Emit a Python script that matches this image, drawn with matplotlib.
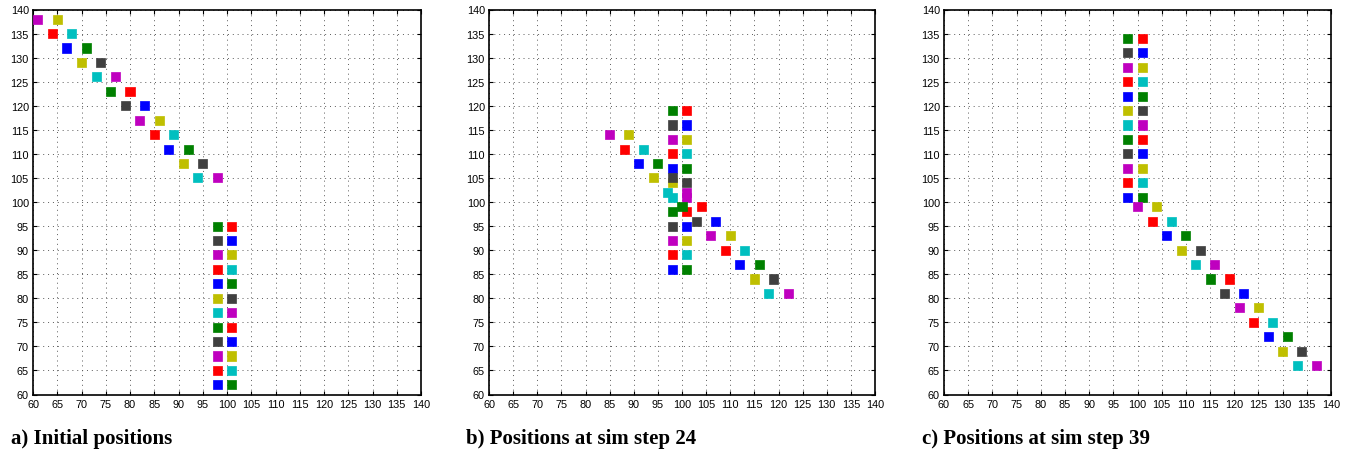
import matplotlib
matplotlib.use("Agg")
import matplotlib.pyplot as plt

# agent positions (48 agents, same order in every panel)
a_x = [98, 101, 98, 101, 98, 101, 98, 101, 98, 101, 98, 101,
       98, 101, 98, 101, 98, 101, 98, 101, 98, 101, 98, 101,
       94, 98, 91, 95, 88, 92, 85, 89, 82, 86, 79, 83,
       76, 80, 73, 77, 70, 74, 67, 71, 64, 68, 61, 65]
a_y = [62, 62, 65, 65, 68, 68, 71, 71, 74, 74, 77, 77,
       80, 80, 83, 83, 86, 86, 89, 89, 92, 92, 95, 95,
       105, 105, 108, 108, 111, 111, 114, 114, 117, 117, 120, 120,
       123, 123, 126, 126, 129, 129, 132, 132, 135, 135, 138, 138]

b_x = [98, 101, 98, 101, 98, 101, 98, 101, 98, 101, 98, 101,
       98, 101, 98, 101, 98, 101, 98, 101, 98, 101, 98, 101,
       118, 122, 115, 119, 112, 116, 109, 113, 106, 110, 103, 107,
       100, 104, 97, 101, 94, 98, 91, 95, 88, 92, 85, 89]
b_y = [86, 86, 89, 89, 92, 92, 95, 95, 98, 98, 101, 101,
       104, 104, 107, 107, 110, 110, 113, 113, 116, 116, 119, 119,
       81, 81, 84, 84, 87, 87, 90, 90, 93, 93, 96, 96,
       99, 99, 102, 102, 105, 105, 108, 108, 111, 111, 114, 114]

c_x = [98, 101, 98, 101, 98, 101, 98, 101, 98, 101, 98, 101,
       98, 101, 98, 101, 98, 101, 98, 101, 98, 101, 98, 101,
       133, 137, 130, 134, 127, 131, 124, 128, 121, 125, 118, 122,
       115, 119, 112, 116, 109, 113, 106, 110, 103, 107, 100, 104]
c_y = [101, 101, 104, 104, 107, 107, 110, 110, 113, 113, 116, 116,
       119, 119, 122, 122, 125, 125, 128, 128, 131, 131, 134, 134,
       66, 66, 69, 69, 72, 72, 75, 75, 78, 78, 81, 81,
       84, 84, 87, 87, 90, 90, 93, 93, 96, 96, 99, 99]

captions = ["a) Initial positions",
            "b) Positions at sim step 24",
            "c) Positions at sim step 39"]

# old matlab colour order
cycle = [(0, 0, 1), (0, 0.5, 0), (1, 0, 0), (0, 0.75, 0.75),
         (0.75, 0, 0.75), (0.75, 0.75, 0), (0.25, 0.25, 0.25)]

ticks = list(range(60, 141, 5))

W, H = 1352, 452
fig = plt.figure(figsize=(W / 100, H / 100), dpi=100)

# axes boxes in pixels: left, right
boxes = [(33, 421), (489, 875), (944, 1331)]
top, bottom = 10.5, 395.5
cap_x = [11, 466, 922]

panels = [(a_x, a_y), (b_x, b_y), (c_x, c_y)]
for k, (xs, ys) in enumerate(panels):
    l, r = boxes[k]
    ax = fig.add_axes([l / W, 1 - bottom / H, (r - l) / W, (bottom - top) / H])
    ax.set_xlim(60, 140)
    ax.set_ylim(60, 140)
    ax.set_xticks(ticks)
    ax.set_yticks(ticks)
    ax.grid(True, color='0.35', linestyle=(0, (1, 4)), linewidth=0.7)
    ax.set_axisbelow(True)
    ax.tick_params(direction='in', top=True, right=True, length=3, width=0.8,
                   labelsize=7.8, pad=3.0, colors='black')
    for lab in ax.get_xticklabels() + ax.get_yticklabels():
        lab.set_family('Liberation Sans')
    for s in ax.spines.values():
        s.set_linewidth(1.2)
    cols = [cycle[i % 7] for i in range(len(xs))]
    ax.scatter(xs, ys, marker='s', s=42, c=cols, linewidths=0.5,
               edgecolors=cols, zorder=3, clip_on=False)
    fig.text(cap_x[k] / W, 1 - 444 / H, captions[k], family='Liberation Serif',
             weight='bold', fontsize=15, va='baseline', ha='left')

fig.savefig("out.png", dpi=100)
